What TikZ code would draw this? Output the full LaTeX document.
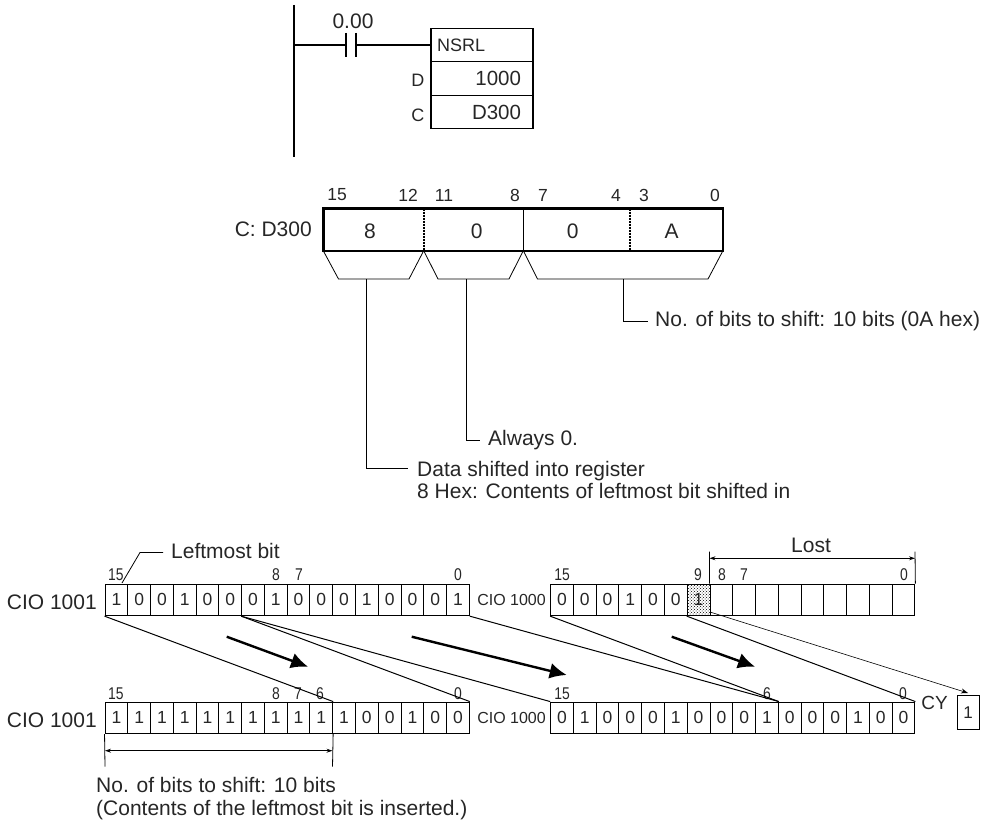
\documentclass[tikz,border=0pt]{standalone}
\usepackage{fontspec}
\setmainfont{Liberation Sans}
\newfontfamily\narrowfont[FakeStretch=0.82]{Liberation Sans}
\usetikzlibrary{arrows.meta,patterns}
\newcommand{\fs}[1]{\fontsize{#1}{#1}\selectfont}
\begin{document}
\begin{tikzpicture}[x=1pt,y=-1pt,>=Stealth,font=\fs{21},text=black!85]
\tikzstyle{cell}=[draw,line width=.9pt,minimum width=22.77pt,minimum height=31.7pt,inner sep=0pt,font=\fs{17.5}]
\tikzstyle{bitno}=[inner sep=0pt,font=\narrowfont\fs{17}]
\tikzstyle{midno}=[inner sep=0pt,font=\fs{17.5}]
\tikzstyle{midval}=[inner sep=0pt,font=\fs{21}]
\tikzstyle{funcbox}=[draw,line width=1.4pt,minimum width=102pt,minimum height=33.5pt,inner sep=0pt]
\tikzstyle{leader}=[line width=.8pt]
\tikzstyle{shiftline}=[line width=1pt]
\tikzstyle{bigarrow}=[line width=2.4pt,-{Latex[length=17pt,width=16pt]}]
\tikzstyle{dim}=[line width=.8pt,{Stealth[length=6pt,width=4pt]}-{Stealth[length=6pt,width=4pt]}]
\useasboundingbox (0,0) rectangle (984,821);
% ladder rung
\coordinate (railtop) at (294,5);
\coordinate (railbot) at (294,157);
\coordinate (railrung) at (294,45);
\draw[line width=2pt] (railtop) -- (railbot);
\node[minimum width=10pt,minimum height=24pt,inner sep=0pt] (contact) at (351,45) {};
\node[inner sep=0pt] (contactlbl) at (353,21) {0.00};
\node[funcbox,text width=90pt,align=left] (nsrl) at (482,45) {\fs{18}NSRL};
\node[funcbox,text width=78pt,align=right] (opd) at (482,78.5) {\fs{20.5}1000};
\node[funcbox,text width=78pt,align=right] (opc) at (482,112) {\fs{20.5}D300};
\node[anchor=east,inner sep=0pt,font=\fs{18}] (dlbl) at (424.5,80) {D};
\node[anchor=east,inner sep=0pt,font=\fs{18}] (clbl) at (424.5,115) {C};
\draw[line width=1.2pt] (railrung) -- (contact.west);
\draw[line width=1.2pt] (contact.east) -- (nsrl.west);
\draw[line width=1.6pt] (contact.north west) -- (contact.south west);
\draw[line width=1.6pt] (contact.north east) -- (contact.south east);
% control word
\node[minimum width=399.2pt,minimum height=42pt,inner sep=0pt] (word) at (523.1,229.6) {};
\node[anchor=east,inner sep=0pt] (wordlbl) at (312,229) {C: D300};
\coordinate (w1t) at (423.7,208.5); \coordinate (w1b) at (423.7,250.7);
\coordinate (w2t) at (523.3,208.5); \coordinate (w2b) at (523.3,250.7);
\coordinate (w3t) at (630,208.5);   \coordinate (w3b) at (630,250.7);
\draw[line width=2pt,densely dotted] (w1t) -- (w1b);
\draw[line width=.8pt] (w2t) -- (w2b);
\draw[line width=2pt,densely dotted] (w3t) -- (w3b);
\draw[line width=2.6pt] (word.north west) rectangle (word.south east);
\foreach \x/\t in {337/15,408/12,444/11,515/8,543/7,616/4,644/3,715/0}
  \node[midno] (w\t) at (\x,195) {\t};
\foreach \x/\t/\n in {370/8/a,476.7/0/b,572.7/0/c,671.7/A/d}
  \node[midval] (val\n) at (\x,231) {\t};
% brackets under the word
\coordinate (b1) at (366.7,279);
\coordinate (b2) at (466.7,279);
\coordinate (b3) at (623.5,279);
\draw[leader] (word.south west) -- (338.5,279) -- (409,279) -- (w1b);
\draw[leader] (w1b) -- (438,279) -- (509,279) -- (w2b);
\draw[leader] (w2b) -- (537.5,279) -- (708,279) -- (word.south east);
\node[anchor=west,inner sep=0pt] (nbits) at (655,321) {No. of bits to shift: 10 bits (0A hex)};
\node[anchor=west,inner sep=0pt] (always) at (488,440) {Always 0.};
\node[anchor=north west,inner sep=0pt,align=left] (shifted) at (417,461) {Data shifted into register\\[1pt]8 Hex: Contents of leftmost bit shifted in};
\coordinate (e3) at (648,321);
\coordinate (e2) at (480,440);
\coordinate (e1) at (408,468);
\draw[leader] (b3) |- (e3);
\draw[leader] (b2) |- (e2);
\draw[leader] (b1) |- (e1);
% registers
\foreach \r/\ox/\oy in {ta/105/584,tb/550.6/584,ba/105/702,bb/550.6/702}
  \foreach \i in {0,...,15}
    \coordinate (\r\i) at ({\ox+(15-\i)*22.77+11.38},{\oy+15.85});
\foreach \i/\v in {15/1,14/0,13/0,12/1,11/0,10/0,9/0,8/1,7/0,6/0,5/0,4/1,3/0,2/0,1/0,0/1}
  \node[cell] (tac\i) at (ta\i) {\v};
\foreach \i/\v in {15/1,14/1,13/1,12/1,11/1,10/1,9/1,8/1,7/1,6/1,5/1,4/0,3/0,2/1,1/0,0/0}
  \node[cell] (bac\i) at (ba\i) {\v};
\fill[pattern=crosshatch dots,pattern color=black] (tb9) ++(-11.38,-15.85) rectangle ++(22.77,31.7);
\foreach \i/\v in {15/0,14/0,13/0,12/1,11/0,10/0,9/1,8/{},7/{},6/{},5/{},4/{},3/{},2/{},1/{},0/{}}
  \node[cell] (tbc\i) at (tb\i) {\v};
\foreach \i/\v in {15/0,14/1,13/0,12/0,11/0,10/1,9/0,8/0,7/0,6/1,5/0,4/0,3/0,2/1,1/0,0/0}
  \node[cell] (bbc\i) at (bb\i) {\v};
\node[anchor=east,inner sep=0pt] (cioa) at (97,602) {CIO 1001};
\node[anchor=east,inner sep=0pt] (ciob) at (97,720) {CIO 1001};
\node[anchor=east,inner sep=0pt,font=\fs{16}] (cioc) at (546,600) {CIO 1000};
\node[anchor=east,inner sep=0pt,font=\fs{16}] (ciod) at (546,718) {CIO 1000};
\foreach \x/\t in {116/15,276/8,299/7,458/0}
  \node[bitno] (ln\t) at (\x,575) {\t};
\foreach \x/\t in {116/15,276/8,298/7,320/6,458/0}
  \node[bitno] (mn\t) at (\x,694) {\t};
\foreach \x/\t in {562/15,698/9,722/8,744/7,904/0}
  \node[bitno] (rn\t) at (\x,575) {\t};
\foreach \x/\t in {562/15,767/6,903/0}
  \node[bitno] (sn\t) at (\x,694) {\t};
% shift lines
\draw[shiftline] (tac15.south west) -- (bac6.north east);
\draw[shiftline] (tac9.south west) -- (bac0.north east);
\draw[shiftline] (tac9.south west) -- (bbc15.north west);
\draw[shiftline] (tac0.south east) -- (bbc6.north east);
\draw[shiftline] (tbc15.south west) -- (bbc6.north east);
\draw[shiftline] (tbc9.south west) -- (bbc0.north east);
% big arrows
\coordinate (ar1s) at (226.7,636.7); \coordinate (ar1e) at (308,666.7);
\coordinate (ar2s) at (411.7,636.7); \coordinate (ar2e) at (566.7,675);
\coordinate (ar3s) at (671.7,636.7); \coordinate (ar3e) at (755,666.7);
\draw[bigarrow] (ar1s) -- (ar1e);
\draw[bigarrow] (ar2s) -- (ar2e);
\draw[bigarrow] (ar3s) -- (ar3e);
% carry
\node[draw,line width=.9pt,minimum width=22pt,minimum height=33.6pt,inner sep=0pt,font=\fs{17}] (cy) at (968,712.5) {1};
\node[anchor=east,inner sep=0pt] (cylbl) at (948,702.7) {\fs{19}CY};
\coordinate (cystart) at (710,612);
\coordinate (cyend) at (968,693);
\draw[line width=.6pt,-{Stealth[length=7pt,width=5pt]}] (cystart) -- (cyend);
% leftmost bit
\node[anchor=west,inner sep=0pt] (leftmost) at (171,551) {Leftmost bit};
\coordinate (lmstart) at (122,583);
\coordinate (lmknee) at (140,552.5);
\coordinate (lmend) at (163,552.5);
\draw[leader] (lmstart) -- (lmknee) -- (lmend);
% lost span
\coordinate (losta) at (709.5,551.7);
\coordinate (lostb) at (915,551.7);
\coordinate (lostc) at (709.5,558.3);
\coordinate (lostd) at (915,558.3);
\draw[leader] (losta) -- (tbc8.north west);
\draw[leader] (lostb) -- (tbc0.north east);
\draw[dim] (lostc) -- (lostd);
\node[inner sep=0pt] (lost) at (811,545) {Lost};
% bits span
\coordinate (spana) at (105,766.7);
\coordinate (spanb) at (332.5,766.7);
\coordinate (spanc) at (105,750.7);
\coordinate (spand) at (332.5,750.7);
\draw[leader] (bac15.south west) -- (spana);
\draw[leader] (bac6.south east) -- (spanb);
\draw[dim] (spanc) -- (spand);
\node[anchor=north west,inner sep=0pt,align=left] (spanlbl) at (96,777) {No. of bits to shift: 10 bits\\[2pt](Contents of the leftmost bit is inserted.)};
\end{tikzpicture}
\end{document}
